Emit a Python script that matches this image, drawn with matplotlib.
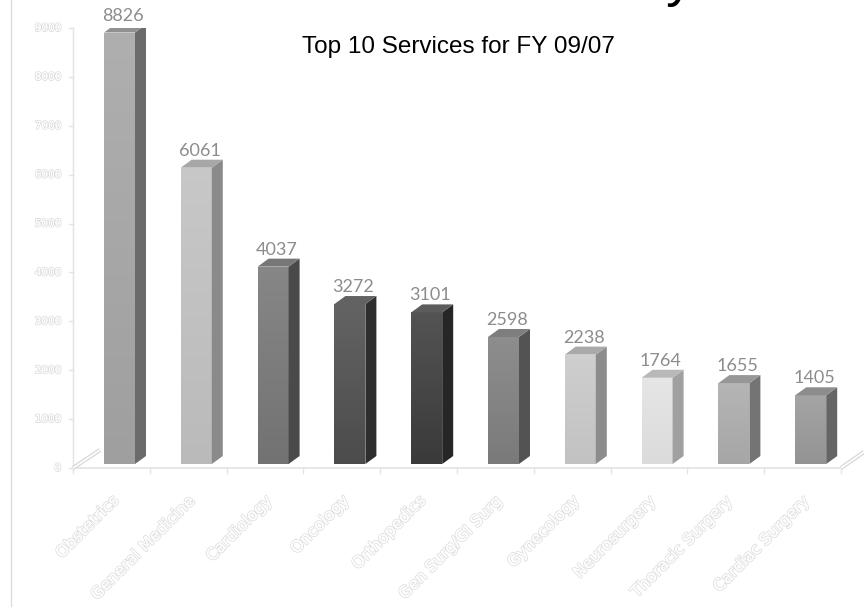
import matplotlib
matplotlib.use("Agg")
import matplotlib.pyplot as plt
import matplotlib.patheffects as pe
from matplotlib.patches import Polygon
from matplotlib.colors import to_rgb
import numpy as np

services = ["Obstetrics", "General Medicine", "Cardiology", "Oncology", "Orthopedics",
            "Gen Surg/GI Surg", "Gynecology", "Neurosurgery", "Thoracic Surgery", "Cardiac Surgery"]
counts = [8826, 6061, 4037, 3272, 3101, 2598, 2238, 1764, 1655, 1405]
front_colors = ["#a4a4a4", "#c0c0c0", "#767676", "#4e4e4e", "#3c3c3c",
                "#7e7e7e", "#c8c8c8", "#e2e2e2", "#ababab", "#989898"]
side_colors = ["#6b6b6b", "#8a8a8a", "#4a4a4a", "#2e2e2e", "#262626",
               "#535353", "#8c8c8c", "#a0a0a0", "#747474", "#656565"]
yticks = [0, 1000, 2000, 3000, 4000, 5000, 6000, 7000, 8000, 9000]

W, H = 864, 607
fig = plt.figure(figsize=(W / 100, H / 100), dpi=100)

# axes box in pixels: x 73..841, y 468 (0) .. 28 (9000)
ax = fig.add_axes([73 / W, (H - 468) / H, 768 / W, 440 / H])
ax.set_xlim(-0.5, 9.5)
ax.set_ylim(0, 9000)
ax.axis("off")

px_x = 10 / 768.0      # one pixel in x data units
px_y = 9000 / 440.0    # one pixel in y data units

# 3d geometry (pixels)
x0_off, bar_w = 31, 31
dep_x, dep_y = 11, 8
base = 4 * px_y


def shade(c, f):
    r = np.array(to_rgb(c))
    return tuple(np.clip(r + (1 - r) * f, 0, 1)) if f > 0 else tuple(r * (1 + f))


for i, (v, fc, sc) in enumerate(zip(counts, front_colors, side_colors)):
    left = i - 0.5 + x0_off * px_x
    right = left + bar_w * px_x
    top = base + v
    dx, dy = dep_x * px_x, dep_y * px_y
    # front face with vertical gradient
    front = Polygon([(left, base), (right, base), (right, top), (left, top)],
                    closed=True, facecolor="none", edgecolor="none")
    ax.add_patch(front)
    c_top = np.array(shade(fc, 0.12))
    c_bot = np.array(to_rgb(fc)) * 0.97
    grad = np.linspace(0, 1, 64)[:, None, None]
    img = c_bot * (1 - grad) + c_top * grad
    im = ax.imshow(img, extent=(left, right, base, top), origin="lower",
                   aspect="auto", zorder=2)
    im.set_clip_path(front)
    # side face
    ax.add_patch(Polygon([(right, base), (right + dx, base + dy), (right + dx, top + dy), (right, top)],
                         closed=True, facecolor=sc, edgecolor="none", zorder=2))
    # top face
    ax.add_patch(Polygon([(left, top), (right, top), (right + dx, top + dy), (left + dx, top + dy)],
                         closed=True, facecolor=shade(sc, 0.25), edgecolor="none", zorder=2))
    ax.text((left + right + dx) / 2 - 2 * px_x, top + dy + 1 * px_y, str(v), ha="center", va="bottom",
            fontsize=13, color="#8c8c8c", family="Lato", zorder=3)

ax.set_xlim(-0.5, 9.5)
ax.set_ylim(0, 9000)

line_c = "#e3e3e3"
# floor front edge and category ticks
ax.plot([-0.5, 9.5], [0, 0], color=line_c, lw=1.2, clip_on=False)
for k in range(11):
    ax.plot([k - 0.5, k - 0.5], [0, -5 * px_y], color=line_c, lw=1, clip_on=False)
# value axis
ax.plot([-0.5, -0.5], [0, 9000], color=line_c, lw=1, clip_on=False)
for t in yticks:
    ax.plot([-0.5 - 4 * px_x, -0.5], [t, t], color=line_c, lw=1, clip_on=False)
    ax.text(-0.5 - 12 * px_x, t, str(t), ha="right", va="center", fontsize=7.5,
            color="white", family="DejaVu Sans", clip_on=False,
            path_effects=[pe.withStroke(linewidth=1.2, foreground="#dadada"), pe.Normal()])
# floor side edges (hollow)
for xs, ys in [([-0.5, -0.5 + 27 * px_x], [0, 18 * px_y]),
               ([9.5, 9.5 + 23 * px_x], [0, 16 * px_y])]:
    ax.plot(xs, ys, color="#d8d8d8", lw=3, clip_on=False, solid_capstyle="butt")
    ax.plot(xs, ys, color="white", lw=1.2, clip_on=False, solid_capstyle="butt")

# category labels, hollow outlined text
for i, name in enumerate(services):
    ax.text(i + 5 * px_x, -30 * px_y, name, ha="right", va="center", rotation=45,
            rotation_mode="anchor", fontsize=11.5, color="white", family="DejaVu Sans",
            clip_on=False,
            path_effects=[pe.withStroke(linewidth=1.4, foreground="#e0e0e0"), pe.Normal()])

# left page edge line
fig.add_artist(plt.Line2D([10.5 / W, 10.5 / W], [0, 1], color="#dcdcdc", lw=1))

fig.text(458 / W, 1 - 47 / H, "Top 10 Services for FY 09/07", ha="center", va="center",
         fontsize=17.5, color="black", family="Liberation Sans")
# descender of the cropped page heading above
fig.text(680 / W, 1 + 5 / H, "y", ha="center", va="baseline", fontsize=40,
         color="black", family="Liberation Sans")

fig.savefig("out.png", dpi=100)
